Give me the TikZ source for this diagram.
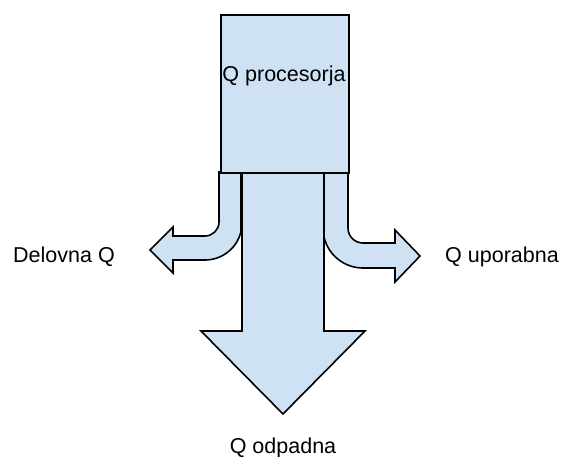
\documentclass[tikz,border=0pt]{standalone}
\usepackage{fontspec}
\setmainfont{Liberation Sans}
\definecolor{shapefill}{HTML}{CFE2F3}
\begin{document}
\begin{tikzpicture}[x=1pt,y=-1pt,
  shapestyle/.style={fill=shapefill,draw=black,line width=1.6pt,line join=miter},
  labelstyle/.style={font=\fontsize{21.5}{26}\selectfont,inner sep=0pt,anchor=base}]
\useasboundingbox (0,0) rectangle (570,457);
% left bent arrow
\draw[shapestyle] (219,172) -- (219,222) arc[start angle=0,end angle=90,radius=14]
  -- (173,236) -- (173,227) -- (150,250) -- (173,273) -- (173,260) -- (205,260)
  arc[start angle=90,end angle=13.3,radius=37] -- (241,172) -- cycle;
% right bent arrow
\draw[shapestyle] (348,172) -- (348,228) arc[start angle=180,end angle=90,radius=15]
  -- (395,243) -- (395,230) -- (420,256) -- (395,282) -- (395,268) -- (363,268)
  arc[start angle=90,end angle=167,radius=40] -- (324,172) -- cycle;
% main arrow
\draw[shapestyle] (242,172) -- (242,331) -- (201,331) -- (283,414) -- (365,331) -- (324,331) -- (324,172) -- cycle;
% box
\node[shapestyle,minimum width=128pt,minimum height=158pt,inner sep=0pt,anchor=north west] (box) at (220,14) {};
\node[labelstyle] (proc) at (284,82) {Q procesorja};
\node[labelstyle] (delo) at (64,262) {Delovna Q};
\node[labelstyle] (upor) at (502,262) {Q uporabna};
\node[labelstyle] (odp) at (283,453) {Q odpadna};
\end{tikzpicture}
\end{document}
